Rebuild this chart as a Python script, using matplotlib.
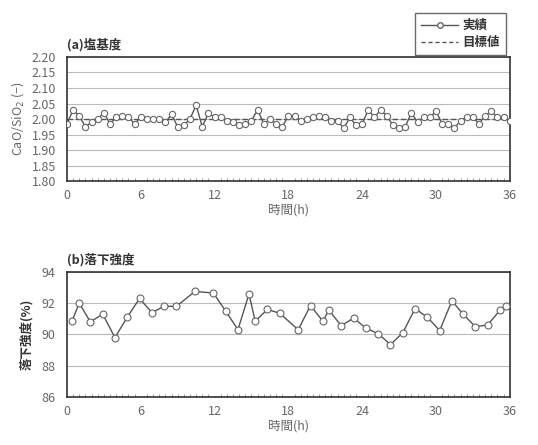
import numpy as np
import matplotlib.pyplot as plt
from matplotlib.lines import Line2D

plt.rcParams['font.family'] = ['Noto Sans CJK JP', 'DejaVu Sans']

# (a) basicity, every 0.5 h
hours_a = np.arange(0, 36.01, 0.5)
basicity = [1.985, 2.03, 2.01, 1.975, 1.99, 2.00, 2.02, 1.985, 2.005, 2.01,
            2.005, 1.985, 2.005, 2.00, 2.00, 2.00, 1.99, 2.015, 1.975, 1.98,
            2.00, 2.045, 1.975, 2.02, 2.005, 2.005, 1.995, 1.99, 1.98, 1.985,
            1.995, 2.03, 1.985, 2.00, 1.985, 1.975, 2.01, 2.01, 1.995, 2.00,
            2.005, 2.01, 2.005, 1.995, 1.995, 1.97, 2.005, 1.98, 1.985, 2.03,
            2.005, 2.03, 2.01, 1.98, 1.97, 1.975, 2.02, 1.99, 2.005, 2.005,
            2.025, 1.985, 1.985, 1.97, 1.995, 2.005, 2.005, 1.985, 2.01, 2.025,
            2.005, 2.005, 1.995]
target = 2.00

# (b) drop strength
hours_b = [0.4, 1.0, 1.9, 2.9, 3.9, 4.9, 5.9, 6.9, 7.9, 8.9, 10.4, 11.9,
           12.9, 13.9, 14.8, 15.3, 16.3, 17.3, 18.8, 19.8, 20.8, 21.3, 22.3,
           23.3, 24.3, 25.3, 26.3, 27.3, 28.3, 29.3, 30.3, 31.3, 32.2, 33.2,
           34.2, 35.2, 35.7]
strength = [90.85, 92.0, 90.8, 91.3, 89.8, 91.1, 92.3, 91.4, 91.8, 91.8,
            92.75, 92.65, 91.5, 90.3, 92.6, 90.85, 91.6, 91.35, 90.3, 91.85,
            90.85, 91.55, 90.55, 91.05, 90.4, 90.05, 89.35, 90.1, 91.65, 91.1,
            90.25, 92.15, 91.3, 90.5, 90.6, 91.55, 91.85]

xticks = [0, 6, 12, 18, 24, 30, 36]
line_c = '#555555'
txt_c = '#666666'
dark_c = '#333333'

fig = plt.figure(figsize=(5.38, 4.45), dpi=100)
ax1 = fig.add_axes([0.1245, 0.593, 0.823, 0.279])
ax2 = fig.add_axes([0.1245, 0.108, 0.823, 0.281])


def style(ax):
    ax.set_xlim(0, 36)
    ax.set_xticks(xticks)
    ax.set_xticks(np.arange(0, 36.01, 0.5), minor=True)
    ax.tick_params(axis='x', which='major', length=0, colors=txt_c, labelsize=9, pad=6)
    ax.tick_params(axis='x', which='minor', length=2, direction='in', color='#888888')
    ax.tick_params(axis='y', length=0, colors=txt_c, labelsize=9, pad=8)
    ax.grid(axis='y', color='#bbbbbb', linewidth=0.8)
    ax.set_axisbelow(True)
    for s in ax.spines.values():
        s.set_color('#333333')
        s.set_linewidth(1.2)
    ax.set_xlabel('時間(h)', color=txt_c, fontsize=9, labelpad=1)


ax1.plot(hours_a, basicity, color=line_c, lw=1.0, marker='o', ms=4.5,
         mfc='white', mec='#666666', mew=0.8, zorder=3)
ax1.axhline(target, color='#555555', lw=1.0, ls=(0, (4, 2)), zorder=2)
ax1.set_ylim(1.80, 2.20)
ax1.set_yticks(np.arange(1.80, 2.201, 0.05))
ax1.set_yticklabels(['%.2f' % v for v in np.arange(1.80, 2.201, 0.05)])
style(ax1)
ax1.set_ylabel('CaO/SiO$_2$ (−)', color=txt_c, fontsize=9, labelpad=4)
ax1.set_title('(a)塩基度', loc='left', fontsize=9, color=dark_c,
              fontweight='bold', pad=6)

ax2.plot(hours_b, strength, color=line_c, lw=1.0, marker='o', ms=5,
         mfc='white', mec='#666666', mew=0.8, zorder=3)
ax2.set_ylim(86, 94)
ax2.set_yticks([86, 88, 90, 92, 94])
style(ax2)
ax2.set_ylabel('落下強度(%)', color=dark_c, fontsize=9, fontweight='bold', labelpad=6)
ax2.set_title('(b)落下強度', loc='left', fontsize=9, color=dark_c,
              fontweight='bold', pad=6)

handles = [Line2D([], [], color=line_c, lw=1.0, marker='o', ms=4,
                  mfc='white', mec='#666666'),
           Line2D([], [], color=line_c, lw=1.0, ls=(0, (3, 2)))]
leg = fig.legend(handles, ['実績', '目標値'], loc='upper right',
                 bbox_to_anchor=(0.952, 0.985), fontsize=9, frameon=True,
                 fancybox=False, edgecolor='#444444', handlelength=3.0,
                 borderpad=0.5, labelspacing=0.3, handletextpad=0.3)
leg.get_frame().set_linewidth(1.0)
for t in leg.get_texts():
    t.set_color(dark_c)
    t.set_fontweight('bold')

fig.savefig('out.png', dpi=100)
